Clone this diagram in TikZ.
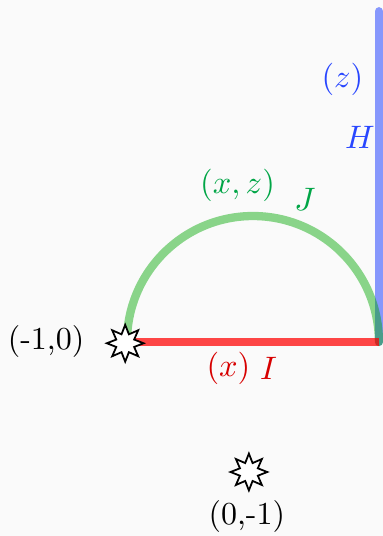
\documentclass[tikz,border=0pt]{standalone}
\usepackage{amsmath,amssymb}
\usepackage{tikz}
\usetikzlibrary{shapes.geometric}
\definecolor{hblue}{RGB}{40,70,255}
\definecolor{jgreen}{RGB}{0,165,70}
\definecolor{ired}{RGB}{215,0,0}
\begin{document}
\begin{tikzpicture}[scale=3,font=\fontsize{10.8}{13}\selectfont,
  pole/.style={star,star points=8,star point ratio=1.9,draw=black,fill=white,inner sep=0pt,minimum size=12.4pt,line width=0.6pt},
  hline/.style={draw=hblue,opacity=0.55,line width=2.7pt,line cap=round},
  jarc/.style={draw=green!65!black,opacity=0.45,line width=2.8pt,line cap=round},
  iline/.style={draw=red,opacity=0.72,line width=2.7pt}]
\fill[black!2] (-1.502,-0.767) rectangle (0.012,1.352);
\useasboundingbox (-1.502,-0.767) rectangle (0.012,1.352);
\coordinate (O) at (-0.004,0);
\coordinate (A) at (-1,0);
\coordinate (T) at (-0.004,1.308);
\draw[hline] (O) -- (T);
\draw[jarc] (A) arc[start angle=180,end angle=0,radius=0.498];
\draw[iline] (A) -- (O);
\node[pole] (p1) at (-1.007,-0.005) {};
\node[pole] (p2) at (-0.518,-0.514) {};
\node (l1) at (-1.32,0) {(-1,0)};
\node (l2) at (-0.526,-0.69) {(0,-1)};
\node[text=jgreen] (xz) at (-0.563,0.621) {$(x,z)$};
\node[text=jgreen] (J) at (-0.296,0.565) {$J$};
\node[text=hblue] (z) at (-0.148,1.04) {$(z)$};
\node[text=hblue] (H) at (-0.079,0.81) {$H$};
\node[text=ired] (x) at (-0.599,-0.103) {$(x)$};
\node[text=ired] (I) at (-0.44,-0.103) {$I$};
\end{tikzpicture}
\end{document}
